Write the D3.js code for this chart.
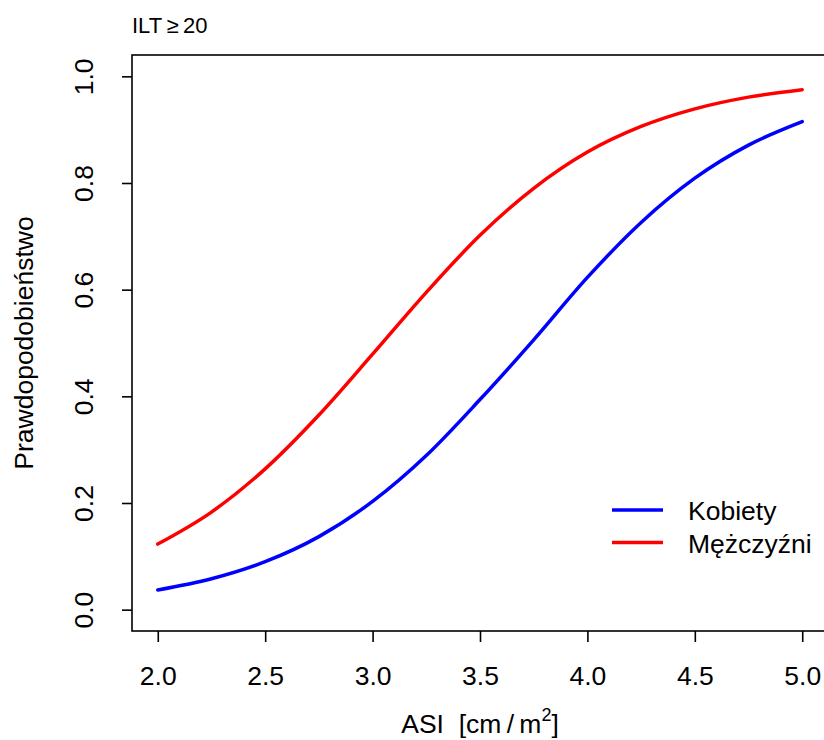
<!DOCTYPE html>
<html>
<head>
<meta charset="utf-8">
<script src="https://cdn.jsdelivr.net/npm/d3@7"></script>
<style>
  body { margin: 0; background: #fff; }
  svg text { font-family: "Liberation Sans", Arial, sans-serif; fill: #000; }
</style>
</head>
<body>
<svg id="chart" width="824" height="740"></svg>
<script>
// values
var asi = [2.0, 2.25, 2.5, 2.75, 3.0, 3.25, 3.5, 3.75, 4.0, 4.25, 4.5, 4.75, 5.0];
var kobiety = [0.037, 0.058, 0.090, 0.137, 0.203, 0.289, 0.394, 0.506, 0.623, 0.726, 0.809, 0.871, 0.915];
var mezczyzni = [0.123, 0.183, 0.264, 0.365, 0.479, 0.595, 0.702, 0.790, 0.858, 0.906, 0.939, 0.961, 0.975];
var xTicks = [2.0, 2.5, 3.0, 3.5, 4.0, 4.5, 5.0];
var yTicks = [0.0, 0.2, 0.4, 0.6, 0.8, 1.0];
var seriesNames = ["Kobiety", "Mężczyźni"];
var seriesColors = ["#0000ff", "#ff0000"];

var svg = d3.select("#chart");
var fs = 26.5;

// R style: 4% padding on each side
var x = d3.scaleLinear().domain([1.88, 5.12]).range([132, 828]);
var y = d3.scaleLinear().domain([-0.04, 1.04]).range([631, 55]);

var fmt = d3.format(".1f");

// curves
var line = d3.line()
    .x(function(d, i) { return x(asi[i]); })
    .y(function(d) { return y(d); })
    .curve(d3.curveMonotoneX);

[kobiety, mezczyzni].forEach(function(s, i) {
  svg.append("path")
      .attr("d", line(s))
      .attr("fill", "none")
      .attr("stroke", seriesColors[i])
      .attr("stroke-width", 3.5)
      .attr("stroke-linecap", "round");
});

// plot box
svg.append("rect")
    .attr("x", x(1.88)).attr("y", y(1.04))
    .attr("width", x(5.12) - x(1.88)).attr("height", y(-0.04) - y(1.04))
    .attr("fill", "none").attr("stroke", "#000").attr("stroke-width", 1.6);

// x axis
var xAxis = svg.append("g")
    .attr("transform", "translate(0," + y(-0.04) + ")")
    .call(d3.axisBottom(x).tickValues(xTicks).tickFormat(fmt).tickSize(11));
xAxis.select(".domain").remove();
xAxis.selectAll("line").attr("stroke-width", 1.6);
xAxis.selectAll("text")
    .attr("font-size", fs).attr("font-family", "Liberation Sans, Arial, sans-serif")
    .attr("dy", null).attr("y", 685 - y(-0.04));

// y axis with rotated labels
var yAxis = svg.append("g")
    .attr("transform", "translate(" + x(1.88) + ",0)")
    .call(d3.axisLeft(y).tickValues(yTicks).tickFormat(fmt).tickSize(10));
yAxis.select(".domain").remove();
yAxis.selectAll("line").attr("stroke-width", 1.6);
yAxis.selectAll("text")
    .attr("font-size", fs).attr("font-family", "Liberation Sans, Arial, sans-serif")
    .attr("x", null).attr("dy", null)
    .attr("text-anchor", "middle")
    .attr("transform", "translate(" + (93 - x(1.88)) + ",0) rotate(-90)");

// legend
var legend = svg.append("g").attr("transform", "translate(612,510)");
seriesNames.forEach(function(name, i) {
  legend.append("line")
      .attr("x1", 0).attr("x2", 51)
      .attr("y1", i * 32.5).attr("y2", i * 32.5)
      .attr("stroke", seriesColors[i]).attr("stroke-width", 3.5);
  legend.append("text")
      .attr("x", 76).attr("y", i * 32.5 + 10)
      .attr("font-size", fs)
      .text(name);
});

// titles
svg.append("text")
    .attr("x", 132).attr("y", 33)
    .attr("font-size", 22)
    .text("ILT\u2009\u2265\u200920");

var xt = svg.append("text")
    .attr("x", 480).attr("y", 733)
    .attr("text-anchor", "middle")
    .attr("font-size", fs);
xt.append("tspan").text("ASI\u00a0\u00a0[cm\u2009/\u2009m");
xt.append("tspan").attr("font-size", 18).attr("dy", -12).text("2");
xt.append("tspan").attr("dy", 12).text("]");

svg.append("text")
    .attr("transform", "translate(33," + y(0.5) + ") rotate(-90)")
    .attr("text-anchor", "middle")
    .attr("font-size", fs)
    .text("Prawdopodobieństwo");
</script>
</body>
</html>
